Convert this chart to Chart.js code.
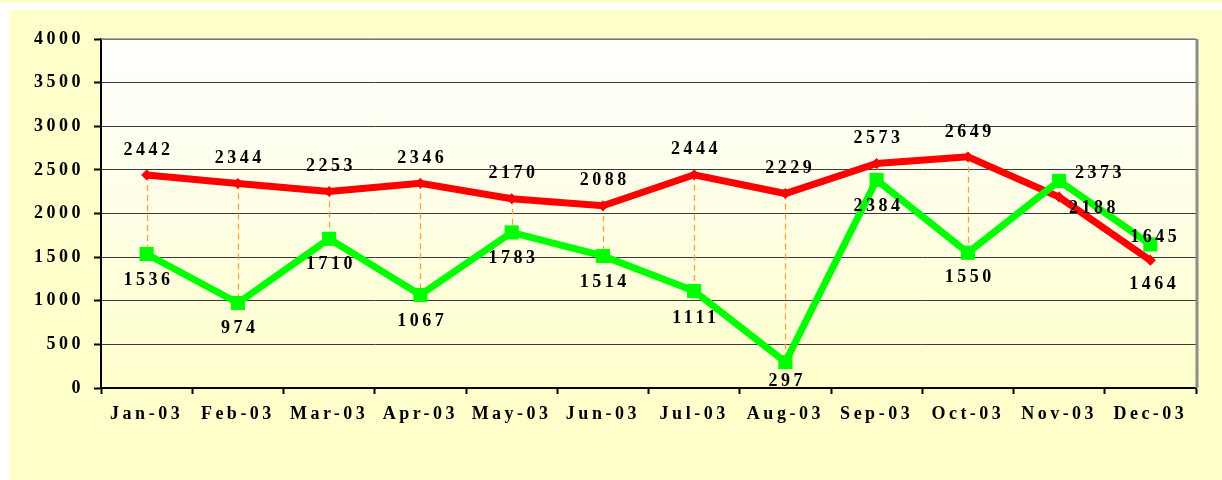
<!DOCTYPE html>
<html>
<head>
<meta charset="utf-8">
<script src="https://cdn.jsdelivr.net/npm/chart.js@4.4.0/dist/chart.umd.min.js"></script>
<style>
html, body { margin: 0; padding: 0; background: #fff; }
canvas { display: block; }
</style>
</head>
<body>
<canvas id="chart" width="1222" height="480"></canvas>
<script>
// data
const months = ['Jan-03', 'Feb-03', 'Mar-03', 'Apr-03', 'May-03', 'Jun-03',
                'Jul-03', 'Aug-03', 'Sep-03', 'Oct-03', 'Nov-03', 'Dec-03'];
const redValues = [2442, 2344, 2253, 2346, 2170, 2088, 2444, 2229, 2573, 2649, 2188, 1464];
const greenValues = [1536, 974, 1710, 1067, 1783, 1514, 1111, 297, 2384, 1550, 2373, 1645];
const yMin = 0;
const yMax = 4000;
const yStep = 500;

// where each value label sits relative to its point (dx, dy)
const redLabelPos = [[0, -25], [0, -25], [0, -25], [0, -25], [0, -25], [0, -25],
                     [0, -25], [3, -25], [0, -25], [0, -25], [33, 11], [2, 24]];
const greenLabelPos = [[0, 26], [0, 25], [0, 26], [0, 26], [0, 26], [0, 26],
                       [0, 27], [0, 19], [0, 26], [0, 25], [39, -8], [3, -7]];

const fontFamily = '"Liberation Serif", "Times New Roman", serif';
const fontSize = 18;
const spacingPx = 3.5;

const spacing = {
    id: 'spacing',
    beforeUpdate(chart) { chart.ctx.letterSpacing = spacingPx + 'px'; },
    beforeDraw(chart) { chart.ctx.letterSpacing = spacingPx + 'px'; }
};

const backdrop = {
    id: 'backdrop',
    beforeDraw(chart) {
        const ctx = chart.ctx;
        const a = chart.chartArea;
        ctx.save();
        ctx.fillStyle = '#ffffff';
        ctx.fillRect(0, 0, chart.width, chart.height);
        ctx.fillStyle = '#ffffcc';
        ctx.fillRect(0, 0, chart.width, 3);
        ctx.fillRect(9, 10, chart.width - 9, chart.height - 10);
        const g = ctx.createLinearGradient(0, a.top, 0, a.bottom);
        g.addColorStop(0, '#ffffff');
        g.addColorStop(1, '#ffffcc');
        ctx.fillStyle = g;
        ctx.fillRect(a.left, a.top, a.right - a.left, a.bottom - a.top);
        ctx.restore();
    },
    afterDraw(chart) {
        const ctx = chart.ctx;
        const a = chart.chartArea;
        ctx.save();
        ctx.strokeStyle = '#8c8c8c';
        ctx.lineWidth = 1.5;
        ctx.beginPath();
        ctx.moveTo(a.left, a.top);
        ctx.lineTo(a.right, a.top);
        ctx.stroke();
        ctx.lineWidth = 3;
        ctx.beginPath();
        ctx.moveTo(a.right + 1, a.top);
        ctx.lineTo(a.right + 1, a.bottom);
        ctx.stroke();
        ctx.restore();
    }
};

const dropLines = {
    id: 'dropLines',
    beforeDatasetsDraw(chart) {
        const ctx = chart.ctx;
        const x = chart.scales.x;
        const y = chart.scales.y;
        ctx.save();
        ctx.strokeStyle = '#ffa040';
        ctx.lineWidth = 1.3;
        ctx.setLineDash([6, 4]);
        for (let i = 0; i < months.length; i++) {
            const px = Math.round(x.getPixelForValue(i)) + 0.5;
            ctx.beginPath();
            ctx.moveTo(px, y.getPixelForValue(redValues[i]));
            ctx.lineTo(px, y.getPixelForValue(greenValues[i]));
            ctx.stroke();
        }
        ctx.restore();
    }
};

const valueLabels = {
    id: 'valueLabels',
    afterDatasetsDraw(chart) {
        const ctx = chart.ctx;
        ctx.save();
        ctx.font = 'bold ' + fontSize + 'px ' + fontFamily;
        ctx.letterSpacing = spacingPx + 'px';
        ctx.fillStyle = '#000';
        ctx.textAlign = 'center';
        ctx.textBaseline = 'middle';
        const sets = [[redValues, redLabelPos], [greenValues, greenLabelPos]];
        sets.forEach(function (s, di) {
            const meta = chart.getDatasetMeta(di);
            meta.data.forEach(function (pt, i) {
                const p = s[1][i];
                ctx.fillText(String(s[0][i]), pt.x + p[0] + spacingPx / 2, pt.y + p[1]);
            });
        });
        ctx.restore();
    }
};

const data = {
    labels: months,
    datasets: [{
        label: 'Red',
        data: redValues,
        borderColor: '#ff0000',
        backgroundColor: '#ff0000',
        borderWidth: 7,
        pointStyle: 'rectRot',
        pointRadius: 5,
        pointBorderWidth: 1,
        tension: 0,
        order: 2
    }, {
        label: 'Green',
        data: greenValues,
        borderColor: '#00ff00',
        backgroundColor: '#00ff00',
        borderWidth: 7,
        pointStyle: 'rect',
        pointRadius: 10,
        pointBorderWidth: 0,
        tension: 0,
        order: 1
    }]
};

const config = {
    type: 'line',
    data: data,
    options: {
        responsive: false,
        animation: false,
        devicePixelRatio: 1,
        layout: { padding: { left: 9, top: 39, right: 26, bottom: 0 } },
        plugins: {
            legend: { display: false },
            tooltip: { enabled: false },
            title: { display: false }
        },
        scales: {
            x: {
                offset: true,
                grid: {
                    offset: true,
                    drawOnChartArea: false,
                    drawTicks: true,
                    tickLength: 6,
                    tickColor: '#000',
                    tickWidth: 2
                },
                border: { color: '#000', width: 2 },
                ticks: {
                    color: '#000',
                    padding: 10,
                    maxRotation: 0,
                    autoSkip: false,
                    font: { family: fontFamily, size: fontSize, weight: 'bold' }
                },
                afterFit(scale) { scale.height = 92; }
            },
            y: {
                min: yMin,
                max: yMax,
                grid: {
                    color: '#3a3a3a',
                    lineWidth: 1,
                    tickLength: 7,
                    tickColor: '#000',
                    tickWidth: 2
                },
                border: { color: '#000', width: 2 },
                ticks: {
                    stepSize: yStep,
                    color: '#000',
                    padding: 10,
                    font: { family: fontFamily, size: fontSize, weight: 'bold' },
                    callback: function (v) { return String(v); }
                },
                afterFit(scale) { scale.width = 92; }
            }
        }
    },
    plugins: [spacing, backdrop, dropLines, valueLabels]
};

const myChart = new Chart(document.getElementById('chart'), config);
</script>
</body>
</html>
